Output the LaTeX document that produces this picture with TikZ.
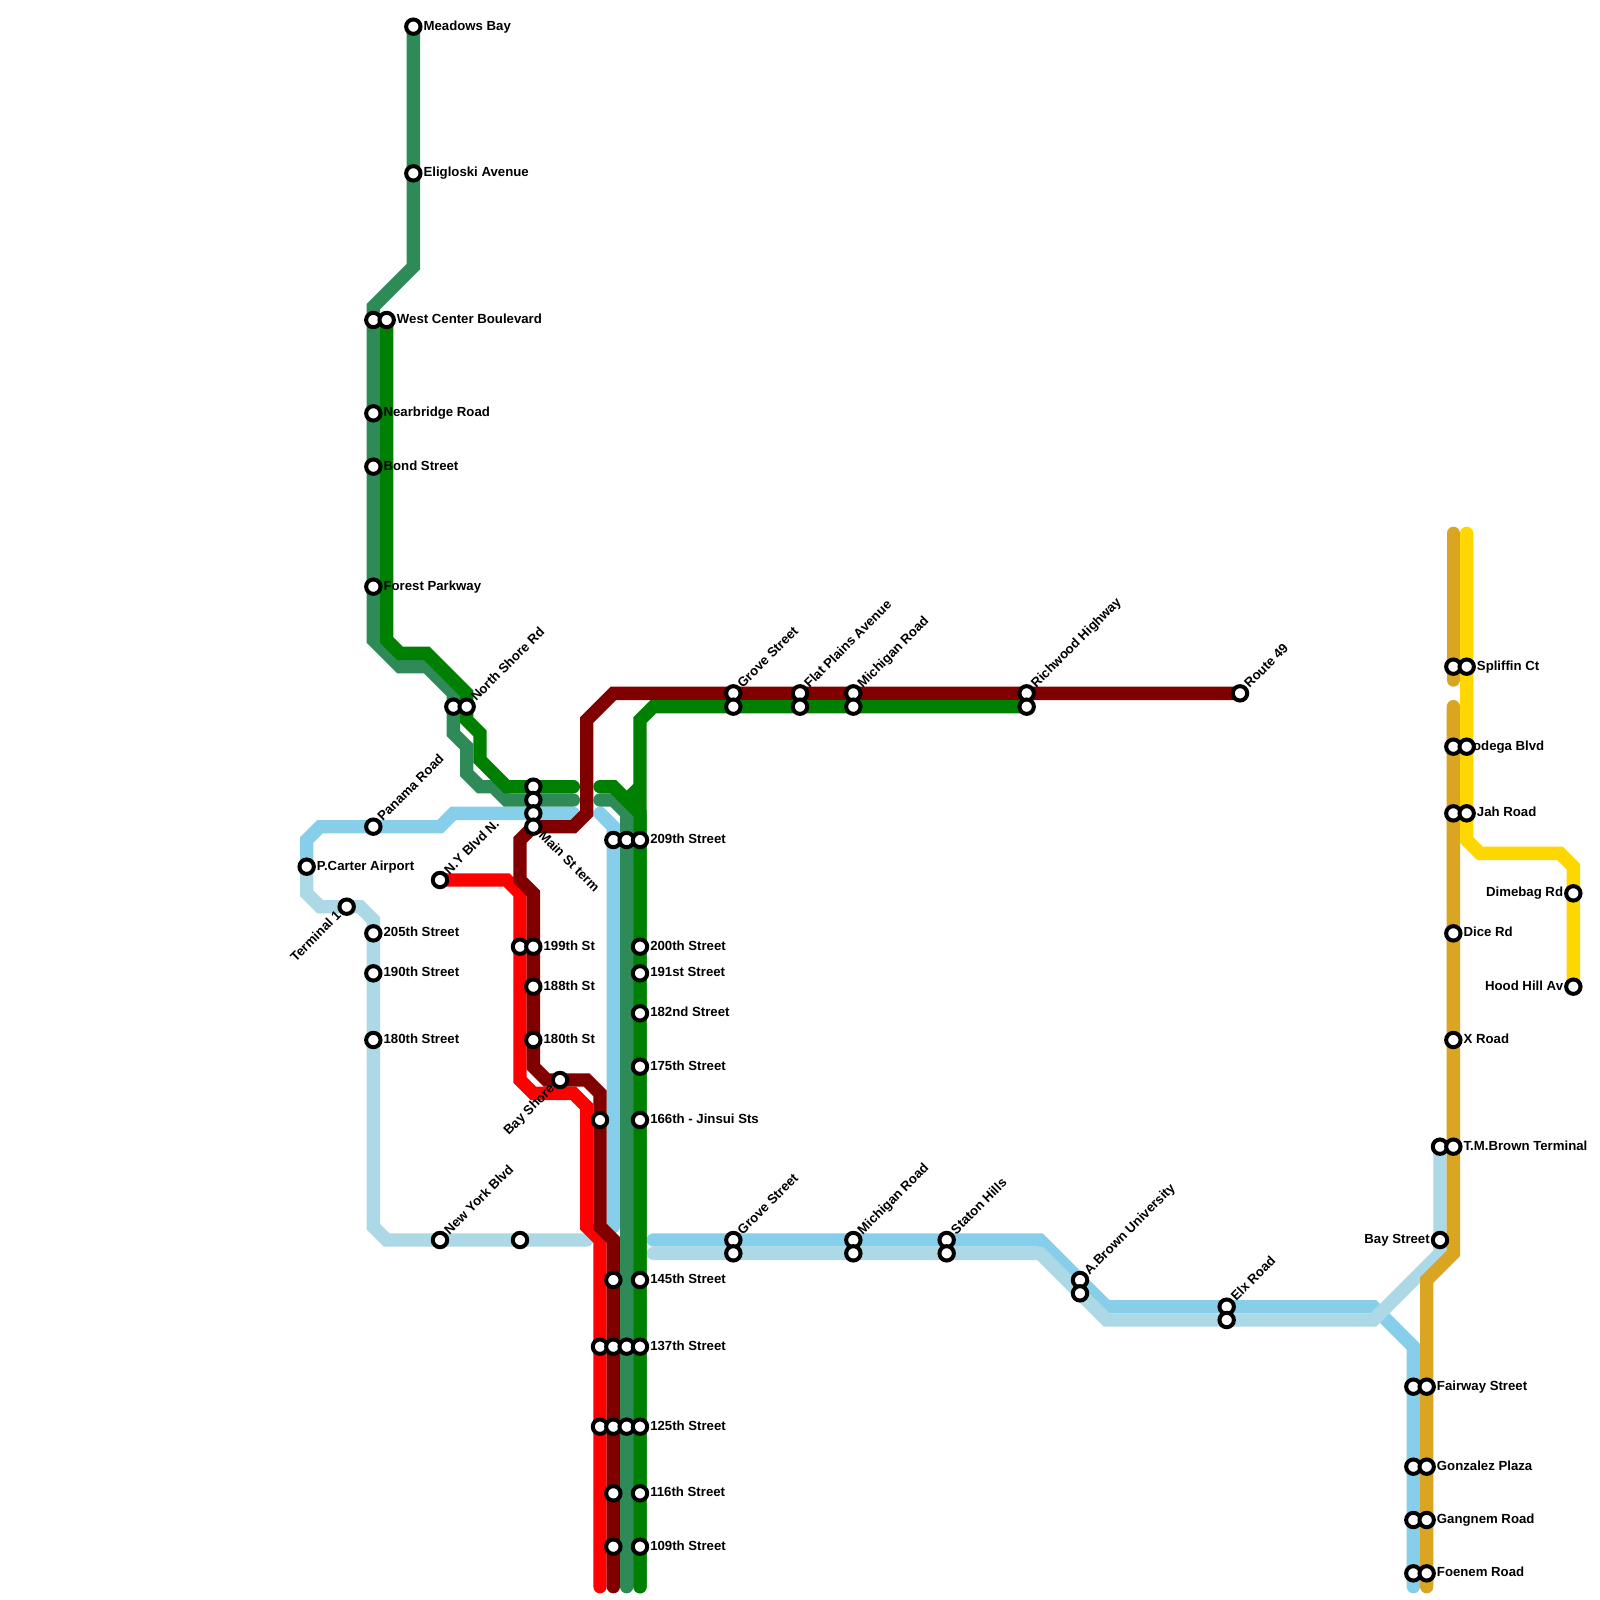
\documentclass[tikz,border=0pt]{standalone}
\usepackage{fontspec}
\setmainfont{Liberation Sans}
\definecolor{lsky}{HTML}{87CEEB}
\definecolor{llight}{HTML}{ADD8E6}
\definecolor{lsea}{HTML}{2E8B57}
\definecolor{lgreen}{HTML}{008000}
\definecolor{lred}{HTML}{FF0000}
\definecolor{ldark}{HTML}{800000}
\definecolor{lrod}{HTML}{DAA520}
\definecolor{lgold}{HTML}{FFD700}
\tikzset{
  route/.style={line width=10pt,line cap=round,miter limit=10,draw=#1},
  stn/.style={circle,draw=black,fill=white,line width=3pt,minimum size=10.8pt,inner sep=0pt},
  lab/.style={anchor=base west,inner sep=0pt,font=\bfseries\fontsize{9.9pt}{12pt}\selectfont,xshift=7.5pt,yshift=-2.5pt},
  labl/.style={anchor=base east,inner sep=0pt,font=\bfseries\fontsize{9.9pt}{12pt}\selectfont,xshift=-7.5pt,yshift=-2.5pt}
}
\begin{document}
\begin{tikzpicture}[x=10pt,y=-10pt]
\useasboundingbox (0,0) rectangle (120,120);
\fill[white] (0,0) rectangle (120,120);
% line ends
\coordinate (a1) at (31,2);  \coordinate (a2) at (43,60);
\coordinate (a3) at (45,60); \coordinate (a4) at (47,119);
\coordinate (b1) at (29,24); \coordinate (b2) at (43,59);
\coordinate (b3) at (45,59); \coordinate (b4) at (48,119);
\coordinate (b5) at (77,53); \coordinate (b6) at (47,60); \coordinate (b7) at (48,59);
\coordinate (c1) at (93,52); \coordinate (c2) at (46,119);
\coordinate (d1) at (33,66); \coordinate (d2) at (45,119);
\coordinate (e1) at (43,61); \coordinate (e2) at (23,65);
\coordinate (e3) at (45,61); \coordinate (e4) at (46,92);
\coordinate (e5) at (49,93); \coordinate (e6) at (106,119);
\coordinate (f1) at (23,65); \coordinate (f2) at (44,93);
\coordinate (f3) at (49,94); \coordinate (f4) at (108,86);
\coordinate (g1) at (109,40); \coordinate (g2) at (109,51);
\coordinate (g3) at (109,53); \coordinate (g4) at (107,119);
\coordinate (h1) at (110,40); \coordinate (h2) at (118,74);
% routes
\draw[route=lsky] (e1) -- (34,61) -- (33,62) -- (24,62) -- (23,63) -- (e2);
\draw[route=lsky] (e3) -- (46,62) -- (e4);
\draw[route=lsky] (e5) -- (78,93) -- (83,98) -- (103,98) -- (106,101) -- (e6);
\draw[route=llight] (f1) -- (23,67) -- (24,68) -- (27,68) -- (28,69) -- (28,92) -- (29,93) -- (f2);
\draw[route=llight] (f3) -- (78,94) -- (83,99) -- (103,99) -- (108,94) -- (f4);
\draw[route=lred] (d1) -- (38,66) -- (39,67) -- (39,81) -- (40,82) -- (43,82) -- (44,83) -- (44,92) -- (45,93) -- (d2);
\draw[route=ldark] (c1) -- (46,52) -- (44,54) -- (44,61) -- (43,62) -- (40,62) -- (39,63) -- (39,66) -- (40,67) -- (40,80) -- (41,81) -- (44,81) -- (45,82) -- (45,92) -- (46,93) -- (c2);
\draw[route=lsea] (a1) -- (31,20) -- (28,23) -- (28,48) -- (30,50) -- (32,50) -- (34,52) -- (34,55) -- (35,56) -- (35,58) -- (36,59) -- (37,59) -- (38,60) -- (a2);
\draw[route=lsea] (a3) -- (46,60) -- (47,61) -- (a4);
\draw[route=lgreen] (b1) -- (29,48) -- (30,49) -- (32,49) -- (35,52) -- (35,54) -- (36,55) -- (36,57) -- (38,59) -- (b2);
\draw[route=lgreen] (b3) -- (46,59) -- (48,61) -- (b4);
\draw[route=lgreen] (b4) -- (48,54) -- (49,53) -- (b5);
\draw[route=lgreen,line cap=butt] (b6) -- (b7);
\draw[route=lrod] (g1) -- (g2);
\draw[route=lrod] (g3) -- (109,94) -- (107,96) -- (g4);
\draw[route=lgold] (h1) -- (110,63) -- (111,64) -- (117,64) -- (118,65) -- (h2);
% labels to the right
\foreach \x/\y/\t in {31/2/Meadows Bay,31/13/Eligloski Avenue,29/24/West Center Boulevard,28/31/Nearbridge Road,28/35/Bond Street,28/44/Forest Parkway,23/65/P.Carter Airport,28/70/205th Street,28/73/190th Street,28/78/180th Street,40/71/199th St,40/74/188th St,40/78/180th St,48/63/209th Street,48/71/200th Street,48/73/191st Street,48/76/182nd Street,48/80/175th Street,48/84/166th - Jinsui Sts,48/96/145th Street,48/101/137th Street,48/107/125th Street,48/112/116th Street,48/116/109th Street,110/50/Spliffin Ct,109/56/Bodega Blvd,110/61/Jah Road,109/70/Dice Rd,109/78/X Road,109/86/T.M.Brown Terminal,107/104/Fairway Street,107/110/Gonzalez Plaza,107/114/Gangnem Road,107/118/Foenem Road}
  {\node[lab] (L\x-\y) at (\x,\y) {\t};}
% labels at 45 degrees
\foreach \x/\y/\t in {35/53/North Shore Rd,28/62/Panama Road,33/66/N.Y Blvd N.,33/93/New York Blvd,55/52/Grove Street,60/52/Flat Plains Avenue,64/52/Michigan Road,77/52/Richwood Highway,93/52/Route 49,55/93/Grove Street,64/93/Michigan Road,71/93/Staton Hills,81/96/A.Brown University,92/98/Elx Road}
  {\node[rotate=45,lab] (L\x-\y) at (\x,\y) {\t};}
\node[rotate=-45,lab] (Lmain) at (40,62) {Main St term};
% labels to the left
\node[labl] (Lbay) at (108,93) {Bay Street};
\node[labl] (Ldim) at (118,67) {Dimebag Rd};
\node[labl] (Lhood) at (118,74) {Hood Hill Av};
\node[rotate=45,labl] (Lterm) at (26,68) {Terminal 1};
\node[rotate=45,labl] (Lshore) at (42,81) {Bay Shore};
% stations
\foreach \x/\y in {31/2,31/13,28/24,29/24,28/31,28/35,28/44,34/53,35/53,40/59,40/60,40/61,40/62,28/62,23/65,26/68,28/70,28/73,28/78,33/66,39/71,40/71,40/74,40/78,42/81,33/93,39/93,45/84,46/63,47/63,48/63,48/71,48/73,48/76,48/80,48/84,46/96,48/96,45/101,46/101,47/101,48/101,45/107,46/107,47/107,48/107,46/112,48/112,46/116,48/116,55/52,55/53,60/52,60/53,64/52,64/53,77/52,77/53,93/52,55/93,55/94,64/93,64/94,71/93,71/94,81/96,81/97,92/98,92/99,108/86,109/86,108/93,106/104,107/104,106/110,107/110,106/114,107/114,106/118,107/118,109/50,110/50,109/56,110/56,109/61,110/61,109/70,109/78,118/67,118/74}
  {\node[stn] (s\x-\y) at (\x,\y) {};}
\end{tikzpicture}
\end{document}
